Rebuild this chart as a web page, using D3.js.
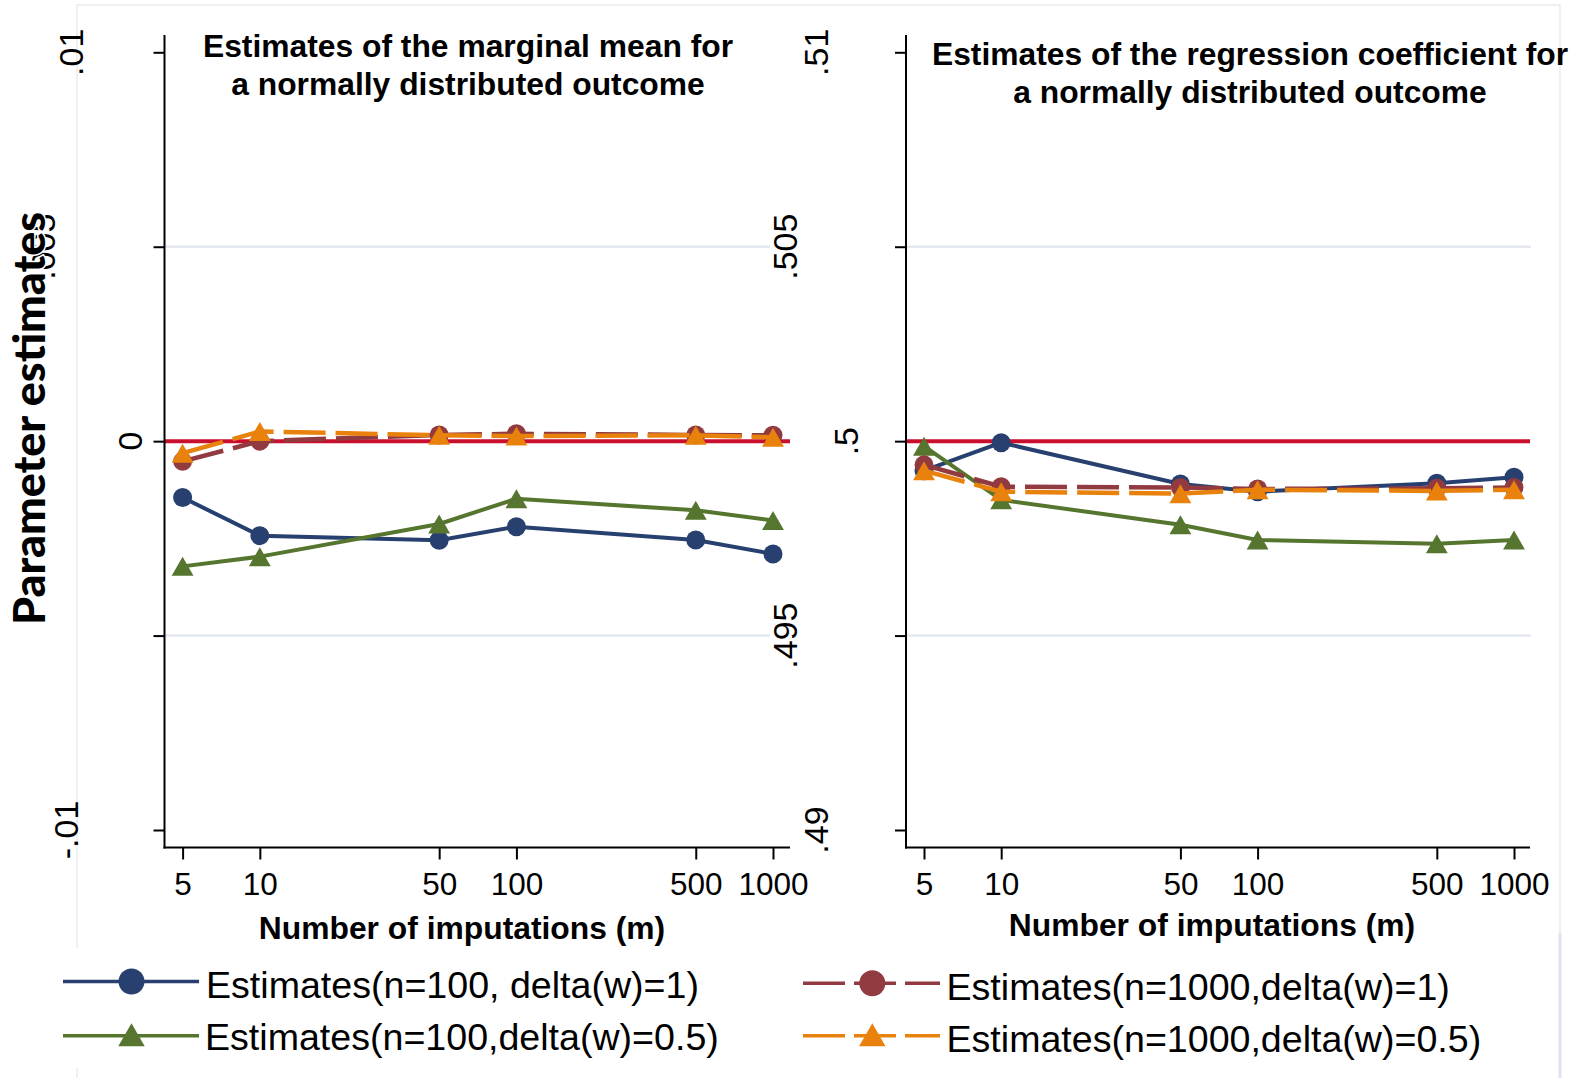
<!DOCTYPE html>
<html><head><meta charset="utf-8">
<script src="https://cdn.jsdelivr.net/npm/d3@7"></script>
<style>body{margin:0;background:#fff}svg{display:block}</style>
</head><body>
<svg id="c" width="1581" height="1078"></svg>
<script>
// ---------------- DATA ----------------
const imputations = [5, 10, 50, 100, 500, 1000];
const xTickLabels = ["5", "10", "50", "100", "500", "1000"];

// Panel 1: marginal mean
const meanN100D1   = [-0.00145, -0.00243, -0.00255, -0.00220, -0.00254, -0.00290];
const meanN1000D1  = [-0.00052,  0.00000,  0.00016,  0.00019,  0.00016,  0.00015];
const meanN100D05  = [-0.00322, -0.00297, -0.00213, -0.00148, -0.00178, -0.00204];
const meanN1000D05 = [-0.00031,  0.00025,  0.00015,  0.00013,  0.00015,  0.00010];

// Panel 2: regression coefficient
const coefN100D1   = [0.49924, 0.49996, 0.49890, 0.49870, 0.49892, 0.49907];
const coefN1000D1  = [0.49939, 0.49883, 0.49881, 0.49877, 0.49879, 0.49881];
const coefN100D05  = [0.49987, 0.49849, 0.49785, 0.49746, 0.49736, 0.49746];
const coefN1000D05 = [0.49924, 0.49870, 0.49865, 0.49875, 0.49872, 0.49875];

const seriesNames = ["Estimates(n=100, delta(w)=1)", "Estimates(n=1000,delta(w)=1)",
                     "Estimates(n=100,delta(w)=0.5)", "Estimates(n=1000,delta(w)=0.5)"];

const leftYTicks = [-0.01, -0.005, 0, 0.005, 0.01];
const leftYLabelValues = [0.01, 0.005, 0, -0.01];
const leftYLabels = [".01", ".005", "0", "-.01"];
const rightYTicks = [0.49, 0.495, 0.5, 0.505, 0.51];
const rightYLabelValues = [0.51, 0.505, 0.5, 0.495, 0.49];
const rightYLabels = [".51", ".505", ".5", ".495", ".49"];
const leftGrid = [-0.005, 0.005];
const rightGrid = [0.495, 0.505];
const refValues = [0, 0.5];

const panelTitles = [
  ["Estimates of the marginal mean for", "a normally distributed outcome"],
  ["Estimates of the regression coefficient for", "a normally distributed outcome"]
];
const xTitle = "Number of imputations (m)";
const yTitle = "Parameter estimates";

// ---------------- STYLE / LAYOUT ----------------
const colors = ["#27406f", "#913a40", "#56752f", "#e8820c"];
const dashed = [false, true, false, true];
const markers = ["circle", "circle", "triangle", "triangle"];
const drawOrder = [0, 2, 1, 3];
const refColor = "#c8102e";
const gridColor = "#e4e8f0";
const FONT = "'Liberation Sans', Arial, sans-serif";

const yTop = 52.3, yBot = 830, axisTop = 35, axisY = 847.5;

const panels = [
  { xRange: [182.6, 773], axisX: 164.5, axisEnd: 790, gridEnd: 770, refEnd: 790,
    yDomain: [-0.01, 0.01], ticks: leftYTicks, grid: leftGrid, ref: refValues[0],
    labelVals: leftYLabelValues, labels: leftYLabels, labelBx: [83, 55, 142, 78],
    series: [meanN100D1, meanN1000D1, meanN100D05, meanN1000D05],
    titleBase: [57, 95], titleCx: 468, xTitleCx: 462, xTitleBase: 939 },
  { xRange: [924, 1514], axisX: 906, axisEnd: 1530, gridEnd: 1531, refEnd: 1530,
    yDomain: [0.49, 0.51], ticks: rightYTicks, grid: rightGrid, ref: refValues[1],
    labelVals: rightYLabelValues, labels: rightYLabels, labelBx: [828, 797, 858, 797, 828],
    series: [coefN100D1, coefN1000D1, coefN100D05, coefN1000D05],
    titleBase: [65, 103], titleCx: 1250, xTitleCx: 1212, xTitleBase: 936 }
];

const svg = d3.select("#c");
svg.append("rect").attr("width", 1581).attr("height", 1078).attr("fill", "#fff");

// outer frame
svg.append("rect").attr("x", 77).attr("y", 5).attr("width", 1483).attr("height", 1090)
  .attr("fill", "none").attr("stroke", "#e9ebf1").attr("stroke-width", 1.5);
svg.append("rect").attr("x", 40).attr("y", 948).attr("width", 1510).attr("height", 120).attr("fill", "#fff");
svg.append("line").attr("x1", 1560).attr("x2", 1560).attr("y1", 933).attr("y2", 1078)
  .attr("stroke", "#dfe3ee").attr("stroke-width", 3);

function markerPath(type, size) {
  if (type === "circle") {
    const r = size / 2;
    return `M${-r},0A${r},${r} 0 1,0 ${r},0A${r},${r} 0 1,0 ${-r},0Z`;
  }
  const w = size * 1.15, h = size;
  return `M0,${-h / 2}L${w / 2},${h / 2}L${-w / 2},${h / 2}Z`;
}

panels.forEach((p, pi) => {
  const g = svg.append("g");
  const x = d3.scaleLog().domain([5, 1000]).range(p.xRange);
  const y = d3.scaleLinear().domain(p.yDomain).range([yBot, yTop]);

  // gridlines
  g.selectAll(".grid").data(p.grid).enter().append("line")
    .attr("x1", p.axisX).attr("x2", p.gridEnd)
    .attr("y1", d => y(d)).attr("y2", d => y(d))
    .attr("stroke", gridColor).attr("stroke-width", 2.5);

  // reference line
  g.append("line").attr("x1", p.axisX).attr("x2", p.refEnd)
    .attr("y1", y(p.ref)).attr("y2", y(p.ref))
    .attr("stroke", refColor).attr("stroke-width", 4);

  // series
  const line = d3.line().x(d => x(d.m)).y(d => y(d.v));
  drawOrder.forEach(si => {
    const data = imputations.map((m, i) => ({ m, v: p.series[si][i] }));
    g.append("path").datum(data).attr("d", line)
      .attr("fill", "none").attr("stroke", colors[si])
      .attr("stroke-width", dashed[si] ? 4.5 : 4)
      .attr("stroke-dasharray", dashed[si] ? "42,10" : null);
    g.selectAll(null).data(data).enter().append("path")
      .attr("transform", d => `translate(${x(d.m)},${y(d.v)})`)
      .attr("d", markerPath(markers[si], markers[si] === "circle" ? 19 : 19))
      .attr("fill", colors[si]);
  });

  // axes
  const yAxis = d3.axisLeft(y).tickValues(p.ticks).tickSize(11).tickFormat("");
  const ya = g.append("g").attr("transform", `translate(${p.axisX},0)`).call(yAxis);
  ya.select(".domain").remove();
  ya.selectAll(".tick line").attr("stroke", "#000").attr("stroke-width", 2);
  g.append("line").attr("x1", p.axisX).attr("x2", p.axisX).attr("y1", axisTop).attr("y2", axisY + 1)
    .attr("stroke", "#000").attr("stroke-width", 2);

  const xAxis = d3.axisBottom(x).tickValues(imputations).tickSize(12)
    .tickFormat((d, i) => xTickLabels[i]).tickPadding(14);
  const xa = g.append("g").attr("transform", `translate(0,${axisY})`).call(xAxis);
  xa.select(".domain").remove();
  xa.selectAll(".tick line").attr("stroke", "#000").attr("stroke-width", 2);
  xa.selectAll(".tick text").attr("font-family", FONT).attr("font-size", 31.5).attr("fill", "#000")
    .attr("dy", null).attr("y", 47.5);
  g.append("line").attr("x1", p.axisX - 1).attr("x2", p.axisEnd).attr("y1", axisY).attr("y2", axisY)
    .attr("stroke", "#000").attr("stroke-width", 2);

  // y labels (rotated)
  p.labelVals.forEach((v, i) => {
    g.append("text").attr("transform", `translate(${p.labelBx[i]},${y(v)}) rotate(-90)`)
      .attr("text-anchor", "middle").attr("font-family", FONT).attr("font-size", 34)
      .attr("fill", "#000").text(p.labels[i]);
  });

  // panel title
  panelTitles[pi].forEach((t, i) => {
    g.append("text").attr("x", p.titleCx).attr("y", p.titleBase[i]).attr("text-anchor", "middle")
      .attr("font-family", FONT).attr("font-weight", "bold").attr("font-size", 31.8)
      .attr("fill", "#000").text(t);
  });

  // x title
  g.append("text").attr("x", p.xTitleCx).attr("y", p.xTitleBase).attr("text-anchor", "middle")
    .attr("font-family", FONT).attr("font-weight", "bold").attr("font-size", 31.8)
    .attr("fill", "#000").text(xTitle);
});

// y title
svg.append("text").attr("transform", "translate(45,418.5) rotate(-90)")
  .attr("text-anchor", "middle").attr("font-family", "Lato, 'Open Sans', sans-serif")
  .attr("font-weight", "900").attr("font-size", 44)
  .attr("textLength", 413).attr("lengthAdjust", "spacingAndGlyphs")
  .attr("stroke", "#fff").attr("stroke-width", 3).attr("paint-order", "stroke")
  .attr("fill", "#000").text(yTitle);

// legend
const legendPos = [
  { x1: 63, x2: 199, mx: 131.5, ly: 981.5, tx: 206, ty: 998 },
  { x1: 803, x2: 940, mx: 872.3, ly: 983.3, tx: 946.5, ty: 1000 },
  { x1: 63, x2: 199, mx: 131.5, ly: 1035.7, tx: 205, ty: 1050 },
  { x1: 803, x2: 940, mx: 872.3, ly: 1035.7, tx: 946.5, ty: 1051.5 }
];
const lg = svg.append("g");
seriesNames.forEach((name, si) => {
  const L = legendPos[si];
  lg.append("line").attr("x1", L.x1).attr("x2", L.x2).attr("y1", L.ly).attr("y2", L.ly)
    .attr("stroke", colors[si]).attr("stroke-width", 3.5)
    .attr("stroke-dasharray", dashed[si] ? "42,9" : null);
  lg.append("path").attr("transform", `translate(${L.mx},${L.ly - (markers[si] === "triangle" ? 1 : 0)})`)
    .attr("d", markerPath(markers[si], markers[si] === "circle" ? 26 : 23))
    .attr("fill", colors[si]);
  lg.append("text").attr("x", L.tx).attr("y", L.ty).attr("font-family", FONT)
    .attr("font-size", 37.6).attr("fill", "#000").text(name);
});
</script>
</body></html>
